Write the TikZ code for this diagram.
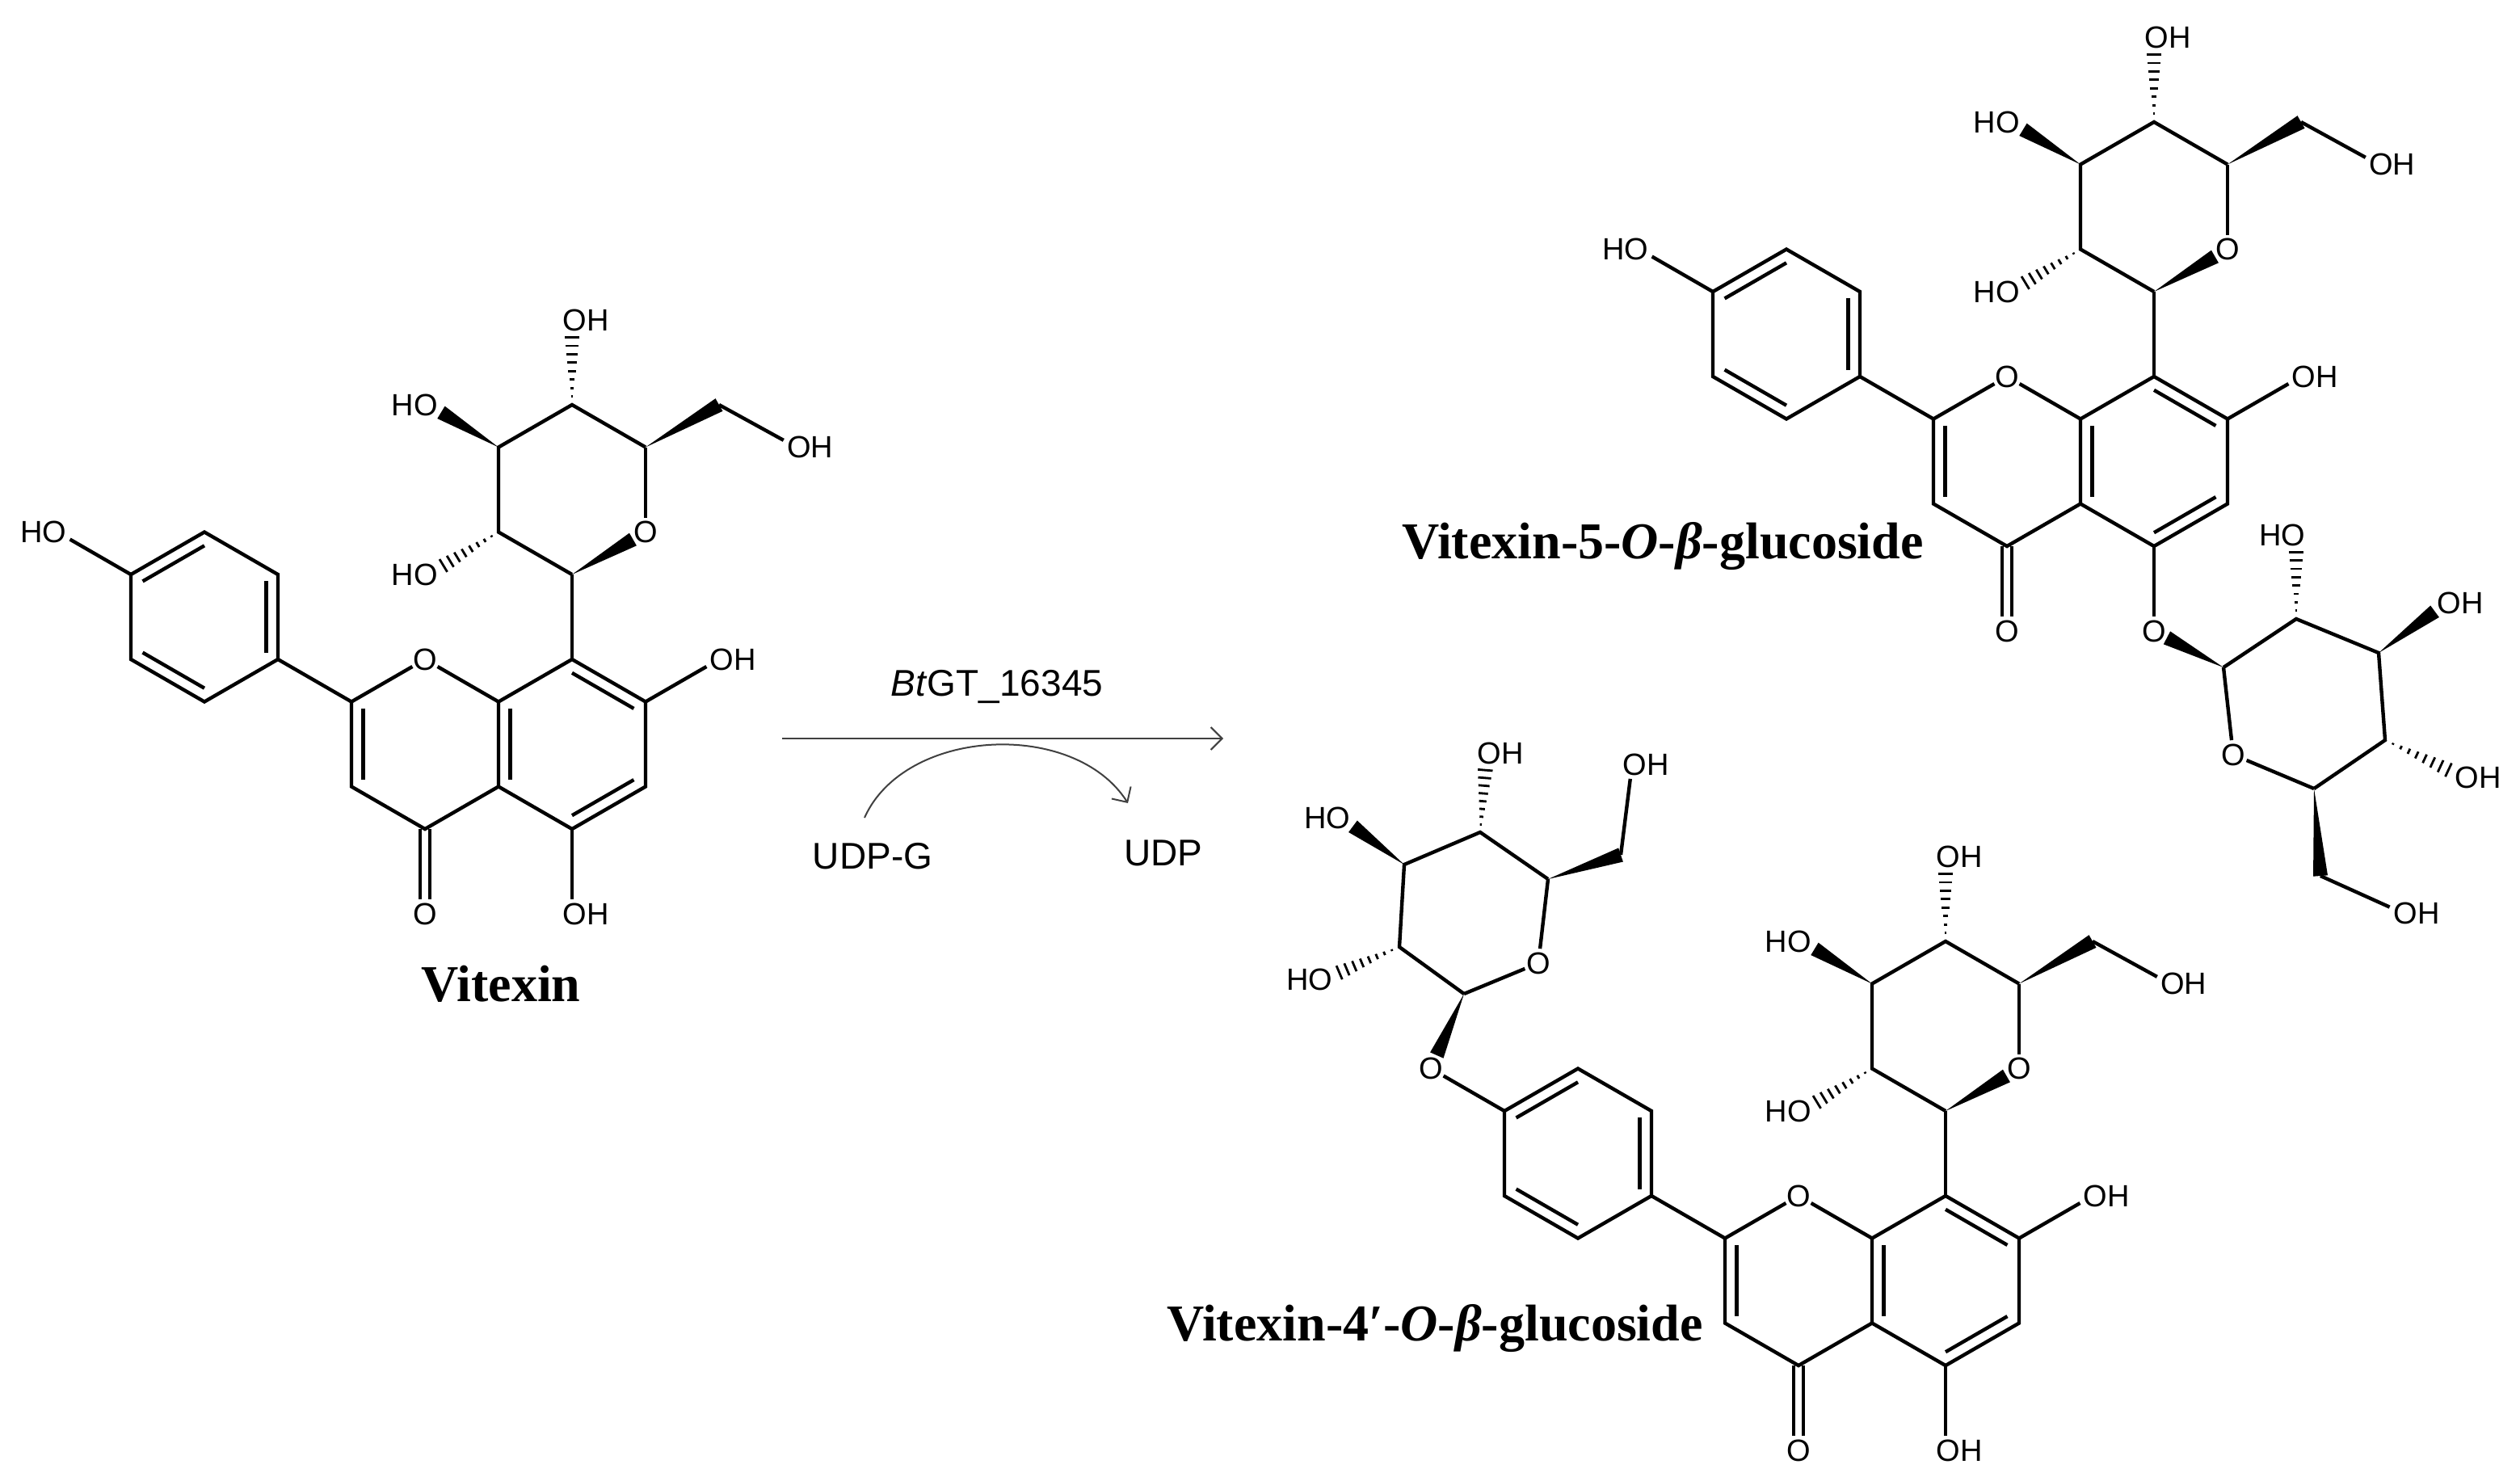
\documentclass[tikz,border=0pt]{standalone}
\usepackage{fontspec}
\setmainfont{Liberation Serif}
\setsansfont{Liberation Sans}
\usetikzlibrary{calc,arrows.meta}
\def\a{45.5}\def\L{52.5}\def\h{26.25}
\newcommand\wb[3][0pt]{\coordinate (wE) at ($(#3)!#1!(#2)$);
 \fill (#2) -- ($(wE)!4.5pt!90:(#2)$) -- ($(wE)!4.5pt!-90:(#2)$) -- cycle;}
\newcommand\wh[3][0pt]{\coordinate (wE) at ($(#3)!#1!(#2)$);
 \foreach \t in {0.12,0.24,0.36,0.48,0.6,0.72,0.84,0.96}{\coordinate (wP) at ($(#2)!\t!(wE)$);
 \draw[line width=1.4pt] ($(wP)!{\t*4.8pt}!90:(#2)$) -- ($(wP)!{\t*4.8pt}!-90:(#2)$);}}
\newcommand\dbl[3]{\draw ($(#3)!0.84!(#1)$) -- ($(#3)!0.84!(#2)$);}
\newcommand\flav[3]{%
\begin{scope}[shift={(#2,#3)}]
\coordinate (#1C8) at (0,0); \coordinate (#1C7) at (\a,\h); \coordinate (#1C6) at (\a,\h+\L);
\coordinate (#1C5) at (0,2*\L); \coordinate (#1C4a) at (-\a,\h+\L); \coordinate (#1C8a) at (-\a,\h);
\coordinate (#1O1) at (-2*\a,0); \coordinate (#1C2) at (-3*\a,\h); \coordinate (#1C3) at (-3*\a,\h+\L);
\coordinate (#1C4) at (-2*\a,2*\L); \coordinate (#1Oc) at (-2*\a,3*\L);
\coordinate (#1B1) at (-4*\a,0); \coordinate (#1B2) at (-4*\a,-\L); \coordinate (#1B3) at (-5*\a,-\L-\h);
\coordinate (#1B4) at (-6*\a,-\L); \coordinate (#1B5) at (-6*\a,0); \coordinate (#1B6) at (-5*\a,\h);
\coordinate (#1O4) at (-7*\a,-\L-\h);
\coordinate (#1O7) at (2*\a,0); \coordinate (#1O5) at (0,3*\L);
\coordinate (#1cA) at (0,\L); \coordinate (#1cC) at (-2*\a,\L); \coordinate (#1cB) at (-5*\a,-\h);
\coordinate (#1S1) at (0,-\L); \coordinate (#1SO) at (\a,-\L-\h); \coordinate (#1S5) at (\a,-2*\L-\h);
\coordinate (#1S4) at (0,-3*\L); \coordinate (#1S3) at (-\a,-2*\L-\h); \coordinate (#1S2) at (-\a,-\L-\h);
\coordinate (#1S6) at (2*\a,-3*\L); \coordinate (#1SO6) at (3.05*\a,-2.5*\L);
\coordinate (#1SO4) at (0,-4*\L); \coordinate (#1SO3) at (-1.95*\a,-3*\L); \coordinate (#1SO2) at (-1.95*\a,-\L);
\end{scope}
\draw (#1C8)--(#1C7)--(#1C6)--(#1C5)--(#1C4a)--(#1C8a)--cycle;
\draw[shorten >=9pt] (#1C8a)--(#1O1); \draw[shorten >=9pt] (#1C2)--(#1O1);
\draw (#1C2)--(#1C3)--(#1C4)--(#1C4a);
\draw (#1C2)--(#1B1);
\draw (#1B1)--(#1B2)--(#1B3)--(#1B4)--(#1B5)--(#1B6)--cycle;
\draw[shorten >=9pt] (#1B4)--(#1O4);
\draw[shorten >=9pt] ($(#1C4)!3pt!90:(#1Oc)$) -- ($(#1Oc)!3pt!-90:(#1C4)$);
\draw[shorten >=9pt] ($(#1C4)!3pt!-90:(#1Oc)$) -- ($(#1Oc)!3pt!90:(#1C4)$);
\draw[shorten >=9pt] (#1C7)--(#1O7); \draw[shorten >=9pt] (#1C5)--(#1O5);
\dbl{#1B3}{#1B4}{#1cB} \dbl{#1B1}{#1B2}{#1cB} \dbl{#1B5}{#1B6}{#1cB}
\dbl{#1C2}{#1C3}{#1cC} \dbl{#1C8a}{#1C4a}{#1cA} \dbl{#1C7}{#1C8}{#1cA} \dbl{#1C5}{#1C6}{#1cA}
\draw (#1C8)--(#1S1); \draw[shorten >=9pt] (#1S5)--(#1SO);
\draw (#1S5)--(#1S4)--(#1S3)--(#1S2)--(#1S1);
\wb[9pt]{#1S1}{#1SO} \wb{#1S5}{#1S6} \draw[shorten >=9pt] (#1S6)--(#1SO6);
\wh[9pt]{#1S4}{#1SO4} \wb[9pt]{#1S3}{#1SO3} \wh[9pt]{#1S2}{#1SO2}
\node[Ol] (#1lO1) at (#1O1) {O}; \node[Ol] (#1lOc) at (#1Oc) {O};
\node[OHl] (#1lO7) at (#1O7) {OH}; \node[Ol] (#1lSO) at (#1SO) {O};
\node[OHl] (#1lSO6) at (#1SO6) {OH}; \node[OHl] (#1lSO4) at (#1SO4) {OH};
\node[HOl] (#1lSO3) at (#1SO3) {HO}; \node[HOl] (#1lSO2) at (#1SO2) {HO};
}
\tikzset{
 Ol/.style={font=\sffamily\fontsize{19}{19}\selectfont, inner sep=0pt},
 OHl/.style={Ol, anchor=west, xshift=-6.8pt},
 HOl/.style={Ol, anchor=east, xshift=6.8pt},
 title/.style={font=\bfseries\fontsize{32}{32}\selectfont, inner sep=0pt},
 rxn/.style={font=\sffamily\fontsize{23}{23}\selectfont, inner sep=0pt}}
\begin{document}
\begin{tikzpicture}[x=1pt,y=-1pt,line width=2.2pt,line join=miter]
\useasboundingbox (0,0) rectangle (1559.5,913.5);
% Vitexin
\flav{V}{354}{408}
\node[HOl] (VlO4) at (VO4) {HO}; \node[OHl] (VlO5) at (VO5) {OH};
\node[title] (lv) at (310,609) {Vitexin};
% Product 1: vitexin-5-O-glucoside
\flav{P}{1333}{233}
\node[HOl] (PlO4) at (PO4) {HO}; \node[Ol] (PlO5) at (PO5) {O};
\coordinate (g1) at (1376,413); \coordinate (g2) at (1421,383); \coordinate (g3) at (1472,404);
\coordinate (g4) at (1476,458); \coordinate (g5) at (1432,488); \coordinate (gO) at (1382,467);
\coordinate (g6) at (1436,542); \coordinate (gO6) at (1487,565); \coordinate (gO2) at (1421,331);
\coordinate (gO3) at (1514,373); \coordinate (gO4) at (1525,481);
\wb[9pt]{g1}{PO5}
\draw (g1)--(g2)--(g3)--(g4)--(g5); \draw[shorten >=9pt] (g5)--(gO); \draw[shorten >=9pt] (g1)--(gO);
\wh[9pt]{g2}{gO2} \wb[9pt]{g3}{gO3} \wh[9pt]{g4}{gO4} \wb{g5}{g6} \draw[shorten >=9pt] (g6)--(gO6);
\node[Ol] (glO) at (gO) {O}; \node[HOl] (glO2) at (gO2) {HO}; \node[OHl] (glO3) at (gO3) {OH};
\node[OHl] (glO4) at (gO4) {OH}; \node[OHl] (glO6) at (gO6) {OH};
\node[title] (lp1) at (1029,338) {Vitexin-5-\textit{O}-\textit{β}-glucoside};
% Product 2: vitexin-4'-O-glucoside
\flav{Q}{1204}{740}
\node[Ol] (QlO4) at (QO4) {O}; \node[OHl] (QlO5) at (QO5) {OH};
\coordinate (h1) at (906,615); \coordinate (hO) at (952,596); \coordinate (h5) at (958,544);
\coordinate (h4) at (916,515); \coordinate (h3) at (869,535); \coordinate (h2) at (866,586);
\coordinate (h6) at (1003,529); \coordinate (hO6) at (1010,473); \coordinate (hO4) at (920,466);
\coordinate (hO3) at (830,506); \coordinate (hO2) at (819,606);
\wb[9pt]{h1}{QO4}
\draw (h1)--(h2)--(h3)--(h4)--(h5); \draw[shorten >=9pt] (h5)--(hO); \draw[shorten >=9pt] (h1)--(hO);
\wh[9pt]{h2}{hO2} \wb[9pt]{h3}{hO3} \wh[9pt]{h4}{hO4} \wb{h5}{h6} \draw[shorten >=9pt] (h6)--(hO6);
\node[Ol] (hlO) at (hO) {O}; \node[HOl] (hlO2) at (hO2) {HO}; \node[HOl] (hlO3) at (hO3) {HO};
\node[OHl] (hlO4) at (hO4) {OH}; \node[OHl] (hlO6) at (hO6) {OH};
\node[title] (lp2) at (888,822) {Vitexin-4′-\textit{O}-\textit{β}-glucoside};
% reaction arrow
\coordinate (ar1) at (484,457); \coordinate (ar2) at (757,457);
\draw[line width=1pt, black!75, -{Straight Barb[length=7pt,width=14pt]}] (ar1) -- (ar2);
\node[rxn] (enz) at (617,425) {\textit{Bt}GT\_16345};
\coordinate (cu1) at (535,506); \coordinate (cu2) at (698,497);
\draw[line width=1pt, black!75, -{Straight Barb[length=7pt,width=14pt]}] (cu1) .. controls (560,450) and (665,445) .. (cu2);
\node[rxn] (udpg) at (540,530) {UDP-G};
\node[rxn] (udp) at (720,528) {UDP};
\end{tikzpicture}
\end{document}
